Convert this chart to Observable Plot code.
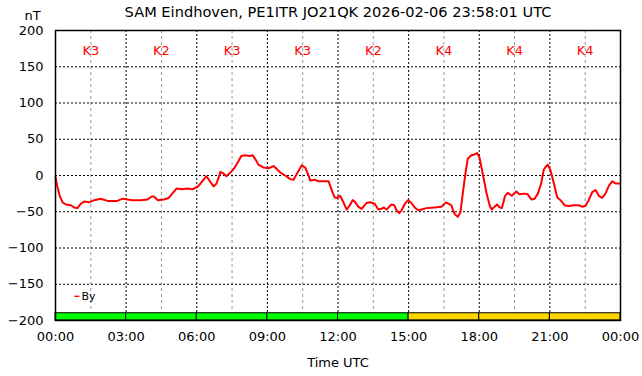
<!DOCTYPE html>
<html><head><meta charset="utf-8">
<script src="https://cdn.jsdelivr.net/npm/d3@7"></script>
<script src="https://cdn.jsdelivr.net/npm/@observablehq/plot@0.6"></script>
<style>
html,body{margin:0;padding:0;background:#fff;}
#chart svg{display:block;}
</style>
</head><body><div id="chart"></div>
<script>
const title = "SAM Eindhoven, PE1ITR JO21QK 2026-02-06 23:58:01 UTC";
const yUnit = "nT";
const xTitle = "Time UTC";
const seriesName = "By";

// time in hours (UTC), By in nT
const hours = [0.00,0.08,0.18,0.30,0.44,0.65,0.79,0.93,1.07,1.22,1.43,1.64,1.92,2.21,2.63,2.85,3.27,3.62,3.91,4.09,4.18,4.35,4.60,4.81,4.96,5.14,5.38,5.59,5.81,6.02,6.16,6.41,6.58,6.72,6.84,7.01,7.12,7.26,7.43,7.57,7.74,7.89,8.03,8.25,8.37,8.48,8.62,8.84,9.05,9.26,9.40,9.55,9.76,9.97,10.11,10.25,10.46,10.61,10.75,10.82,11.03,11.17,11.60,11.71,11.85,11.95,12.09,12.23,12.37,12.50,12.62,12.71,12.86,13.00,13.21,13.35,13.56,13.71,13.85,13.95,14.06,14.27,14.39,14.49,14.60,14.70,14.84,14.98,15.12,15.26,15.41,15.55,15.76,16.11,16.40,16.58,16.81,16.95,17.09,17.20,17.30,17.40,17.51,17.66,17.80,17.91,18.01,18.15,18.30,18.44,18.53,18.65,18.76,18.86,18.96,19.10,19.21,19.38,19.57,19.71,19.92,20.06,20.21,20.35,20.49,20.63,20.74,20.82,20.91,21.03,21.17,21.31,21.48,21.62,21.80,22.02,22.23,22.37,22.51,22.65,22.80,22.94,23.08,23.22,23.36,23.51,23.65,23.79,23.97];
const byValues = [-2,-16,-28,-37,-40,-41,-44,-45,-39,-36,-37,-34,-32,-35,-35,-32,-34,-34,-33,-29,-29,-34,-33,-31,-25,-18,-19,-18,-19,-16,-11,-1,-9,-15,-11,5,3,-1,4,9,18,27,28,27,28,23,15,11,10,13,9,4,0,-5,-6,2,14,11,0,-7,-6,-8,-8,-18,-30,-31,-28,-37,-47,-41,-34,-36,-43,-46,-38,-37,-39,-47,-46,-44,-47,-40,-41,-48,-52,-48,-39,-34,-38,-44,-48,-47,-45,-44,-43,-37,-41,-53,-57,-51,-25,0,23,28,29,31,25,2,-23,-41,-47,-43,-40,-44,-45,-28,-24,-28,-22,-26,-25,-26,-33,-32,-25,-11,8,12,15,7,-11,-30,-35,-41,-42,-41,-41,-43,-42,-34,-23,-20,-28,-31,-25,-14,-8,-11,-11];

// 3-hour K index blocks
const kStarts = [0,3,6,9,12,15,18,21];
const kLabels = ["K3","K2","K3","K3","K2","K4","K4","K4"];
const kColors = ["#00ff00","#00ff00","#00ff00","#00ff00","#00ff00","#ffd700","#ffd700","#ffd700"];

const xTicks = [0,3,6,9,12,15,18,21,24];
const xMinor = [1.5,4.5,7.5,10.5,13.5,16.5,19.5,22.5];
const yTicks = [-200,-150,-100,-50,0,50,100,150,200];

const series = hours.map((h,i)=>({h, v: byValues[i]}));
const kData = kStarts.map((s,i)=>({s, e: s+3, mid: s+1.5, label: kLabels[i], color: kColors[i]}));

const chart = Plot.plot({
  width: 642, height: 376,
  marginLeft: 55, marginRight: 22, marginTop: 30, marginBottom: 56,
  style: {fontFamily: "DejaVu Sans", fontSize: "13px", background: "#fff", color: "#000"},
  x: {domain: [0,24]},
  y: {domain: [-200,200]},
  color: {type: "identity"},
  marks: [
    Plot.gridX(xMinor, {stroke: "#999", strokeOpacity: 1, strokeDasharray: "3,3"}),
    Plot.gridX(xTicks, {stroke: "#000", strokeOpacity: 1, strokeDasharray: "2,2"}),
    Plot.gridY(yTicks, {stroke: "#000", strokeOpacity: 1, strokeDasharray: "2,2"}),
    Plot.rect(kData, {x1: "s", x2: "e", y1: -200, y2: -190, fill: "color", stroke: "#000", strokeWidth: 1}),
    Plot.text(kData, {x: "mid", y: 172, text: "label", fill: "#ff0000", fontSize: 13}),
    Plot.line(series, {x: "h", y: "v", stroke: "#ff0000", strokeWidth: 2}),
    Plot.axisX(xTicks, {tickSize: 0, tickPadding: 11, fontSize: 13, label: null,
      tickFormat: d => String(d % 24).padStart(2,"0") + ":00"}),
    Plot.axisY(yTicks, {tickSize: 0, tickPadding: 12, fontSize: 13, label: null}),
    Plot.frame({stroke: "#000", strokeWidth: 1.5}),
    Plot.text([title], {frameAnchor: "top", dy: -18, lineAnchor: "middle", fontSize: 14.6}),
    Plot.text([yUnit], {frameAnchor: "top-left", dx: -23, dy: -15, lineAnchor: "middle", textAnchor: "middle", fontSize: 13}),
    Plot.text([xTitle], {frameAnchor: "bottom", dy: 42, lineAnchor: "middle", fontSize: 13}),
    Plot.text(["━"], {frameAnchor: "bottom-left", dx: 19, dy: -24, lineAnchor: "middle", fill: "#ff0000", fontSize: 8}),
    Plot.text([seriesName], {frameAnchor: "bottom-left", dx: 26, dy: -24, lineAnchor: "middle", textAnchor: "start", fontSize: 11})
  ]
});
document.getElementById("chart").appendChild(chart);
</script>
</body></html>
